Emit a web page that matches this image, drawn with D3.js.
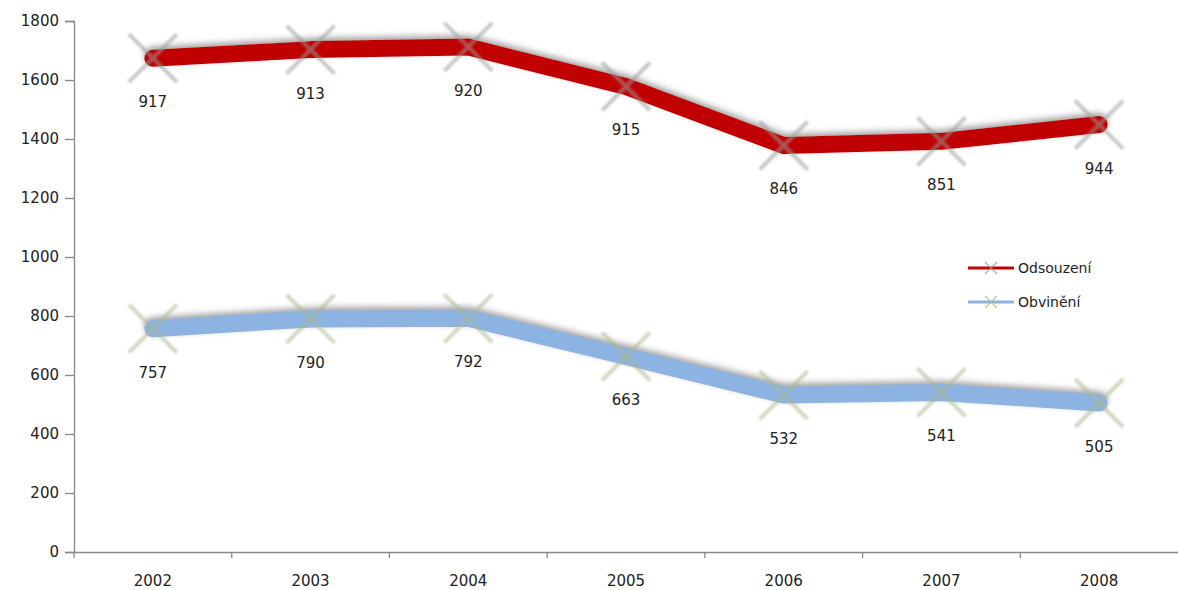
<!DOCTYPE html>
<html lang="cs">
<head>
<meta charset="utf-8">
<title>Odsouzení a obvinění 2002-2008</title>
<script src="https://d3js.org/d3.v7.min.js"></script>
<style>
  body { margin: 0; background: #fff; overflow: hidden; }
  svg { display: block; }
  svg text { font-family: "DejaVu Sans", Verdana, sans-serif; fill: #222; }
</style>
</head>
<body>
<script>
// data (stacked line chart, labels show own values)
var years = ['2002', '2003', '2004', '2005', '2006', '2007', '2008'];
var obvineni = [757, 790, 792, 663, 532, 541, 505];
var odsouzeni = [917, 913, 920, 915, 846, 851, 944];
var yTicks = [0, 200, 400, 600, 800, 1000, 1200, 1400, 1600, 1800];

var width = 1178, height = 590;
var margin = {top: 21, left: 74, right: 0, bottom: 38};

var svg = d3.select('body').append('svg')
  .attr('width', width)
  .attr('height', height);

var defs = svg.append('defs');
var sh = defs.append('filter').attr('id', 'shadow')
  .attr('x', '-10%').attr('y', '-50%').attr('width', '120%').attr('height', '200%');
sh.append('feDropShadow')
  .attr('dx', 0).attr('dy', -3).attr('stdDeviation', 3)
  .attr('flood-color', '#777').attr('flood-opacity', 0.7);
var bl = defs.append('filter').attr('id', 'blur');
bl.append('feGaussianBlur').attr('stdDeviation', 1.2);

var x = d3.scaleBand()
  .domain(years)
  .range([margin.left, width]);

var y = d3.scaleLinear()
  .domain([0, 1800])
  .range([height - margin.bottom, margin.top]);

// axes
var yAxis = svg.append('g')
  .attr('transform', 'translate(' + margin.left + ',0)')
  .call(d3.axisLeft(y).tickValues(yTicks).tickFormat(d3.format('d')).tickSize(9).tickPadding(6));
yAxis.selectAll('text').style('font-size', '15px');

var xAxis = svg.append('g')
  .attr('transform', 'translate(0,' + y(0) + ')')
  .call(d3.axisBottom(x).tickSize(0).tickPadding(23));
xAxis.selectAll('text').style('font-size', '15px');
xAxis.selectAll('.tick').append('line')
  .attr('x1', -x.bandwidth() / 2).attr('x2', -x.bandwidth() / 2)
  .attr('y1', 0).attr('y2', 6);

svg.selectAll('.domain, .tick line').attr('stroke', '#888').attr('stroke-width', 1.3);

var stacked = obvineni.map(function(v, i) { return v + odsouzeni[i]; });

var series = [
  {name: 'Obvinění', own: obvineni, top: obvineni, color: '#8db3e2', mark: '#a9b88f'},
  {name: 'Odsouzení', own: odsouzeni, top: stacked, color: '#c00000', mark: '#9a9a9a'}
];

var cx = function(i) { return x(years[i]) + x.bandwidth() / 2; };

var line = d3.line()
  .x(function(d, i) { return cx(i); })
  .y(function(d) { return y(d); });

series.forEach(function(s) {
  var g = svg.append('g');
  g.append('path')
    .attr('d', line(s.top))
    .attr('fill', 'none')
    .attr('stroke', s.color)
    .attr('stroke-width', 17)
    .attr('stroke-linecap', 'round')
    .attr('stroke-linejoin', 'round')
    .attr('filter', 'url(#shadow)');

  // big x markers
  var r = 24;
  g.selectAll('path.mk')
    .data(s.top)
    .enter()
    .append('path')
    .attr('class', 'mk')
    .attr('d', function(d, i) {
      var px = cx(i), py = y(d);
      return 'M' + (px - r) + ',' + (py - r) + 'L' + (px + r) + ',' + (py + r) +
             'M' + (px - r) + ',' + (py + r) + 'L' + (px + r) + ',' + (py - r);
    })
    .attr('stroke', s.mark)
    .attr('stroke-width', 4)
    .attr('stroke-opacity', 0.55)
    .attr('filter', 'url(#blur)');

  g.selectAll('text.lbl')
    .data(s.top)
    .enter()
    .append('text')
    .attr('class', 'lbl')
    .attr('x', function(d, i) { return cx(i); })
    .attr('y', function(d) { return y(d) + 49; })
    .attr('text-anchor', 'middle')
    .style('font-size', '15px')
    .text(function(d, i) { return s.own[i]; });
});

// legend
var legend = svg.append('g').attr('transform', 'translate(968,268)');
[series[1], series[0]].forEach(function(s, i) {
  var lg = legend.append('g').attr('transform', 'translate(0,' + (i * 34) + ')');
  lg.append('line').attr('x1', 0).attr('x2', 46).attr('y1', 0).attr('y2', 0)
    .attr('stroke', s.color).attr('stroke-width', 3);
  lg.append('path').attr('d', 'M17,-6L29,6M17,6L29,-6')
    .attr('stroke', s.mark).attr('stroke-width', 1.5).attr('stroke-opacity', 0.7);
  lg.append('text').attr('x', 50).attr('y', 5).style('font-size', '14px').text(s.name);
});
</script>
</body>
</html>
